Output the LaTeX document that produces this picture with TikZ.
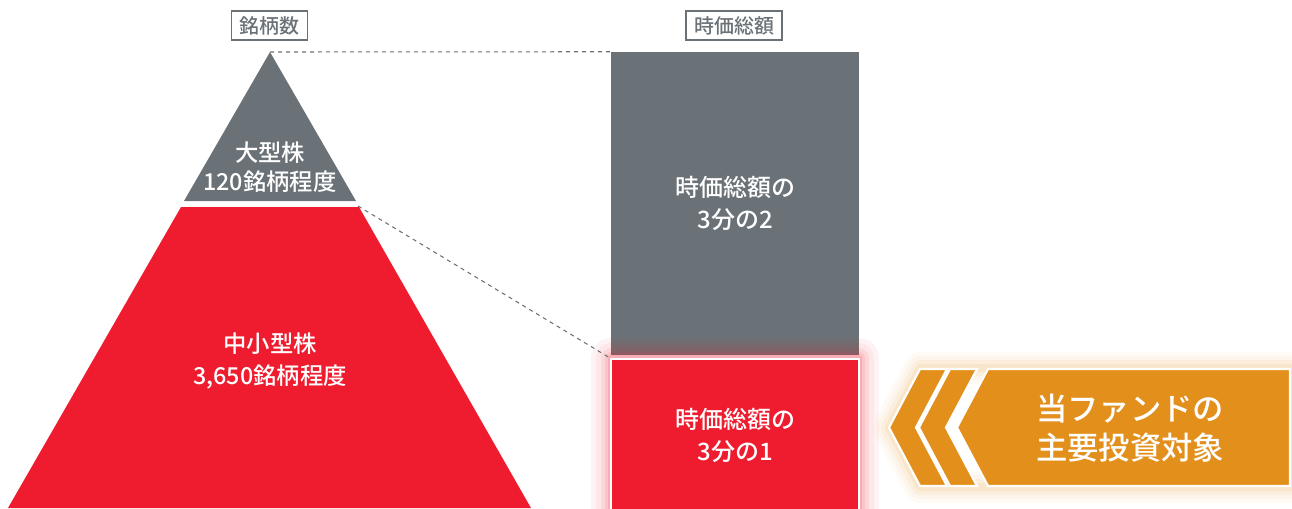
\documentclass[tikz,border=0pt]{standalone}
\usepackage{fontspec}
\setmainfont{Noto Sans CJK JP}
\newfontfamily\medfont{Noto Sans CJK JP Medium}
\usetikzlibrary{positioning}
\definecolor{stockgray}{HTML}{6A7277}
\definecolor{stockred}{HTML}{EE1C2E}
\definecolor{fundorange}{HTML}{E38F1C}

\begin{document}
\begin{tikzpicture}[x = 0.75pt, y = -0.75pt,
                every node/.style = {align = center, inner sep = 0pt},
                headbox/.style = {draw = stockgray, line width = 1.2pt, fill = white, text = stockgray,
                                  minimum height = 22pt, inner xsep = 6pt, font = \medfont\fontsize{15}{17}\selectfont},
                whitetext/.style = {text = white, font = \medfont\fontsize{18}{24}\selectfont},
                capbox/.style = {whitetext, minimum width = 186pt},
                chevron/.style = {fill = fundorange, draw = white, line width = 1.6pt}]
            \useasboundingbox (0,0) rectangle (1292,508);

            % pyramid
            \coordinate (q_apex) at (270,52);
            \coordinate (q_cut) at (358,206);
            \fill[stockgray] (q_apex) -- (356,201) -- (184,201) -- cycle;
            \fill[stockred] (181,207) -- (359,207) -- (531,508) -- (8,508) -- cycle;
            \node (q_large) [whitetext, font = \medfont\fontsize{17.5}{22}\selectfont] at (270,167) {大型株\\120銘柄程度};
            \node (q_small) [whitetext, font = \medfont\fontsize{17.5}{24}\selectfont] at (270,361) {中小型株\\3,650銘柄程度};

            % market cap
            \node (q_capbig) [capbox, fill = stockgray, minimum height = 227.25pt] at (735,203.5) {時価総額の\\3分の2};
            \foreach \w/\o in {40/0.05, 30/0.06, 20/0.08, 12/0.1, 6/0.14}
                \draw[stockred, opacity = \o, line width = \w*0.75pt, line join = round] (611,358) rectangle (859,516);
            \node (q_capsmall) [capbox, fill = stockred, draw = white, line width = 1.6pt,
                                minimum height = 114pt] at (735,435) {時価総額の\\3分の1};

            \node (q_hcount) [headbox] at (269.5,25.5) {銘柄数};
            \node (q_hcap) [headbox] at (734,25.5) {時価総額};

            \path[draw = stockgray, dashed, line width = 0.8pt]
            (q_apex) -- (q_capbig.north west)
            (q_cut)  -- (q_capsmall.north west);

            % fund target
            \foreach \w/\o in {32/0.04, 24/0.05, 16/0.07, 8/0.1}
                \draw[fundorange, opacity = \o, line width = \w*0.75pt, line join = round]
                (889,427.5) -- (920,368) -- (1291,368) -- (1291,487) -- (920,487) -- cycle;
            \draw[chevron] (920,369) -- (947,369) -- (916,427.5) -- (947,486) -- (920,486) -- (889,427.5) -- cycle;
            \draw[chevron] (950,369) -- (977,369) -- (946,427.5) -- (977,486) -- (950,486) -- (919,427.5) -- cycle;
            \draw[chevron] (988,369) -- (1290,369) -- (1290,486) -- (988,486) -- (957,427.5) -- cycle;
            \node (q_target) [whitetext, font = \medfont\fontsize{23.5}{29}\selectfont] at (1130,428) {当ファンドの\\主要投資対象};
        \end{tikzpicture}
\end{document}
